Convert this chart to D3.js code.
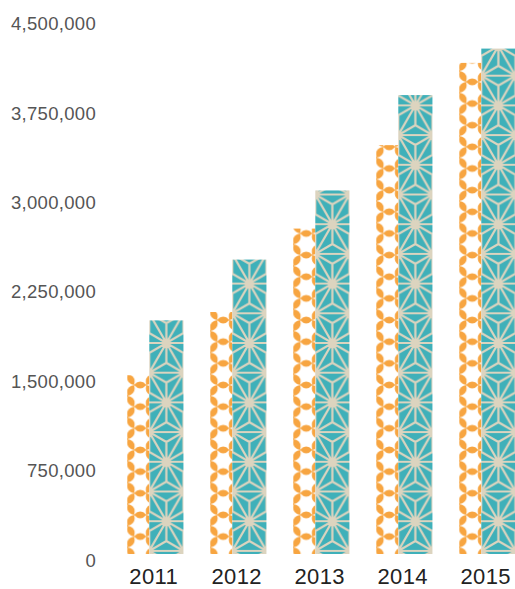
<!DOCTYPE html>
<html><head><meta charset="utf-8">
<script src="https://cdn.jsdelivr.net/npm/d3@7"></script>
<style>body{margin:0;background:#fff}svg{display:block}</style>
</head><body><svg id="c" width="515" height="589"></svg>
<script>
const years = ["2011","2012","2013","2014","2015"];
const seriesA = [1500000, 2030000, 2730000, 3430000, 4120000]; // orange
const seriesB = [1960000, 2470000, 3050000, 3850000, 4240000]; // teal
const yTicks = [0, 750000, 1500000, 2250000, 3000000, 3750000, 4500000];

const svg = d3.select("#c");
const y = d3.scaleLinear().domain([0, 4500000]).range([554, 17.6]);
const x = d3.scaleBand().domain(years).range([127, 127 + 83 * (5 - 0.32)]).paddingInner(0.32).paddingOuter(0);
const bw = x.bandwidth();
const wA = bw * 0.395, wB = bw - wA;

const ORANGE = "#f7a541", TEAL = "#3fb0b9", BEIGE = "#dcd4bf";
const defs = svg.append("defs");

// teal asanoha pattern
const W = wB, H = 29.7;
function asanohaPath(W, H) {
  const segs = [];
  const L = (a, b) => segs.push(`M${a[0]},${a[1]}L${b[0]},${b[1]}`);
  L([-W, 0], [2 * W, 0]); L([-W, H], [2 * W, H]); L([-W, 2 * H], [2 * W, 2 * H]);
  for (let k = -1; k <= 1; k++) {
    const o = k * W;
    L([o + W / 2, 0], [o, H]); L([o + W / 2, 0], [o + W, H]);
    L([o, H], [o + W / 2, 2 * H]); L([o + W, H], [o + W / 2, 2 * H]);
  }
  const tris = [];
  for (let k = -1; k <= 1; k++) {
    const o = k * W;
    tris.push([[o, H], [o + W, H], [o + W / 2, 0]]);
    tris.push([[o + W / 2, 0], [o + 3 * W / 2, 0], [o + W, H]]);
    tris.push([[o, H], [o + W, H], [o + W / 2, 2 * H]]);
    tris.push([[o + W / 2, 2 * H], [o + 3 * W / 2, 2 * H], [o + W, H]]);
  }
  tris.forEach(t => {
    const c = [(t[0][0] + t[1][0] + t[2][0]) / 3, (t[0][1] + t[1][1] + t[2][1]) / 3];
    t.forEach(v => L(c, v));
  });
  return segs.join("");
}
// orange pattern: honeycomb whose edges are leaf shapes
const S = 12.5, HH = S * Math.sqrt(3) / 2;
function leaf(a, b, wid) {
  const mx = (a[0] + b[0]) / 2, my = (a[1] + b[1]) / 2;
  const dx = b[0] - a[0], dy = b[1] - a[1], l = Math.hypot(dx, dy);
  const nx = -dy / l * wid, ny = dx / l * wid;
  return `M${a}Q${mx + nx},${my + ny} ${b}Q${mx - nx},${my - ny} ${a}Z`;
}
function honeyPath() {
  let d = "";
  for (let i = -1; i <= 2; i++) for (let j = -2; j <= 3; j++) {
    const cx = i * 3 * S + (j % 2 ? 1.5 * S : 0), cy = j * HH;
    const v = [0, 1, 2, 3, 4, 5].map(k => [cx + S * Math.cos(k * Math.PI / 3), cy + S * Math.sin(k * Math.PI / 3)]);
    for (let k = 0; k < 6; k++) d += leaf(v[k], v[(k + 1) % 6], 6.8);
  }
  return d;
}

years.forEach((yr, i) => {
  const xa = x(yr), xb = x(yr) + wA;
  const pt = defs.append("pattern").attr("id", "pt" + i).attr("patternUnits", "userSpaceOnUse")
    .attr("x", xb).attr("y", 343).attr("width", W).attr("height", 2 * H);
  pt.append("rect").attr("width", W).attr("height", 2 * H).attr("fill", TEAL);
  pt.append("path").attr("d", asanohaPath(W, H)).attr("stroke", BEIGE).attr("stroke-width", 2.2).attr("fill", "none");
  const po = defs.append("pattern").attr("id", "po" + i).attr("patternUnits", "userSpaceOnUse")
    .attr("x", xa + 7 - S).attr("y", 385).attr("width", 3 * S).attr("height", 2 * HH);
  po.append("rect").attr("width", 3 * S).attr("height", 2 * HH).attr("fill", "#fff");
  po.append("path").attr("d", honeyPath()).attr("fill", ORANGE);
});

const g = svg.append("g");
g.selectAll("rect.a").data(years).join("rect").attr("class", "a")
  .attr("x", d => x(d)).attr("width", wA)
  .attr("y", (d, i) => y(seriesA[i])).attr("height", (d, i) => y(0) - y(seriesA[i]))
  .attr("fill", (d, i) => `url(#po${i})`);
g.selectAll("rect.b").data(years).join("rect").attr("class", "b")
  .attr("x", d => x(d) + wA).attr("width", wB)
  .attr("y", (d, i) => y(seriesB[i])).attr("height", (d, i) => y(0) - y(seriesB[i]))
  .attr("fill", (d, i) => `url(#pt${i})`);

// y axis
const ya = svg.append("g").attr("transform", "translate(96,0)")
  .call(d3.axisLeft(y).tickValues(yTicks).tickFormat(d3.format(",")).tickSize(0).tickPadding(0));
ya.select(".domain").remove();
ya.selectAll("text").attr("font-family", "Liberation Sans, Arial, sans-serif").attr("font-size", 18.5)
  .attr("letter-spacing", "0.3px").attr("fill", "#555").attr("y", 5.6).attr("dy", "0.35em");

// x axis
const xa = svg.append("g").attr("transform", "translate(0,554)")
  .call(d3.axisBottom(x).tickSize(0).tickPadding(0));
xa.select(".domain").remove();
xa.selectAll("text").attr("font-family", "Liberation Sans, Arial, sans-serif").attr("font-size", 22)
  .attr("letter-spacing", "0.4px").attr("fill", "#222").attr("x", -1.5).attr("y", 30.3).attr("dy", 0);
</script></body></html>
